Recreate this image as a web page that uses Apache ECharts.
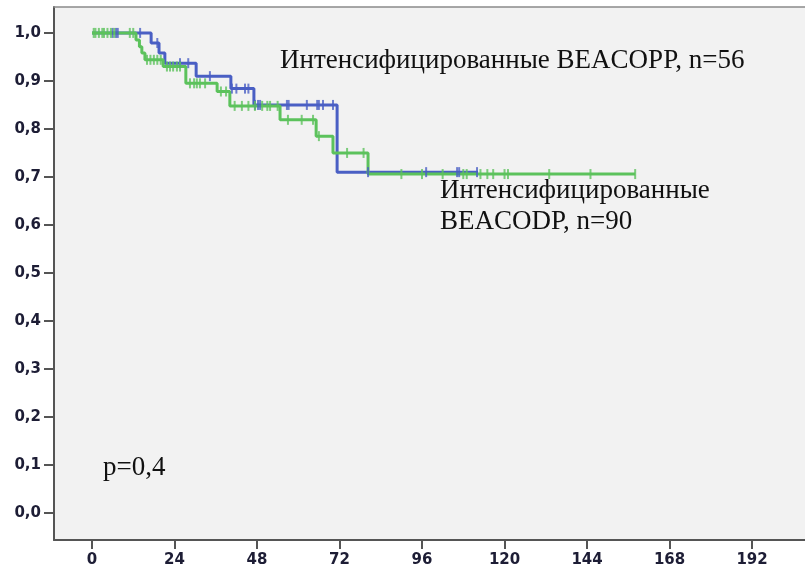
<!DOCTYPE html>
<html>
<head>
<meta charset="utf-8">
<script src="https://cdn.jsdelivr.net/npm/echarts@6/dist/echarts.min.js"></script>
<style>
html,body{margin:0;padding:0;background:#fff;overflow:hidden;}
#chart{width:805px;height:571px;}
</style>
</head>
<body>
<div id="chart"></div>
<script>
// ---- Data (months vs cumulative survival) ----
const xTicks = [0, 24, 48, 72, 96, 120, 144, 168, 192];
const yTicks = [0, 0.1, 0.2, 0.3, 0.4, 0.5, 0.6, 0.7, 0.8, 0.9, 1.0];

// BEACOPP (blue): event times and survival after each step
const blueTimes = [0, 17.2, 19.5, 21.2, 30.3, 40.4, 47.1, 71.3];
const blueSurv  = [1.0, 0.979, 0.958, 0.937, 0.910, 0.884, 0.850, 0.710];
const blueEnd = 112.3;
const blueCensor = [6, 7, 7.5, 14, 19, 25.6, 28, 34.3, 40.7, 42, 44.5, 45.5,
  47.4, 48.3, 48.9, 56.7, 57.2, 62.5, 65.5, 66, 67.2, 70.1, 80.3, 97.2, 106.2, 106.8, 112];

// BEACODP (green)
const greenTimes = [0, 12.8, 13.8, 14.5, 15.4, 20.7, 27.3, 36.4, 40.1, 54.7, 65.2, 70.1, 80.3];
const greenSurv  = [1.0, 0.985, 0.971, 0.958, 0.944, 0.930, 0.895, 0.878, 0.848, 0.819, 0.785, 0.750, 0.706];
const greenEnd = 158;
const greenCensor = [0.5, 1, 2, 3, 3.5, 4.5, 5.5, 6.5, 11, 12, 16, 17, 18, 19, 20,
  21.8, 22.7, 23.6, 24.7, 25.6, 28.5, 29.7, 30.5, 31.4, 32.9, 37.5, 39,
  41.5, 43.6, 45.5, 47.4, 49.5, 51, 51.8, 54, 57, 61, 64.3, 66, 74.2, 79,
  90, 96, 102, 108, 109, 113, 115, 116.7, 120, 121, 133, 145, 158];

const labelTop = 'Интенсифицированные BEACOPP, n=56';
const labelBottom = ['Интенсифицированные', 'BEACODP, n=90'];
const pText = 'p=0,4';

// ---- helpers ----
function stepLine(times, surv, end) {
  const pts = times.map((t, i) => [t, surv[i]]);
  pts.push([end, surv[surv.length - 1]]);
  return pts;
}
function survAt(times, surv, t) {
  let s = surv[0];
  for (let i = 0; i < times.length; i++) { if (times[i] <= t) s = surv[i]; }
  return s;
}
function censorPts(cs, times, surv) {
  return cs.map(t => [t, survAt(times, surv, t)]);
}

const blue = '#4a5fc4';
const green = '#5cc25c';
const axisCol = '#555555';

const chart = echarts.init(document.getElementById('chart'), null, {renderer: 'canvas'});
const fmt = v => Number(v).toFixed(1).replace('.', ',');
const txtFont = '"Liberation Serif", "Times New Roman", serif';
const X_MIN = -11.05, X_MAX = 207.4;

chart.setOption({
  animation: false,
  backgroundColor: '#ffffff',
  grid: {
    left: 54, right: 0, top: 7, bottom: 31,
    show: true, backgroundColor: '#f2f2f2', borderWidth: 0
  },
  xAxis: [{
    type: 'value', min: X_MIN, max: X_MAX,
    axisLine: {show: true, onZero: false, lineStyle: {color: axisCol, width: 2}},
    axisTick: {show: true, customValues: xTicks, length: 9, lineStyle: {color: axisCol, width: 2}},
    axisLabel: {customValues: xTicks, margin: 13, color: '#1d1d35', fontFamily: '"DejaVu Sans", Verdana, sans-serif',
      fontWeight: 'bold', fontSize: 15},
    splitLine: {show: false}
  }, {
    type: 'value', position: 'top', min: X_MIN, max: X_MAX,
    axisLine: {show: true, onZero: false, lineStyle: {color: '#8a8a8a', width: 1.5}},
    axisTick: {show: false}, axisLabel: {show: false}, splitLine: {show: false}
  }],
  yAxis: {
    type: 'value', min: -0.05625, max: 1.054,
    axisLine: {show: true, onZero: false, lineStyle: {color: axisCol, width: 2}},
    axisTick: {show: true, customValues: yTicks, length: 10, lineStyle: {color: axisCol, width: 2}},
    axisLabel: {customValues: yTicks, margin: 13, formatter: fmt, color: '#1d1d35',
      fontFamily: '"DejaVu Sans", Verdana, sans-serif', fontWeight: 'bold', fontSize: 15},
    splitLine: {show: false}
  },
  series: [
    {type: 'line', step: 'end', data: stepLine(blueTimes, blueSurv, blueEnd), showSymbol: false,
      lineStyle: {color: blue, width: 3}, z: 2},
    {type: 'line', step: 'end', data: stepLine(greenTimes, greenSurv, greenEnd), showSymbol: false,
      lineStyle: {color: green, width: 3}, z: 3},
    {type: 'scatter', data: censorPts(blueCensor, blueTimes, blueSurv), symbol: 'rect', symbolSize: [2, 10],
      itemStyle: {color: blue}, z: 4},
    {type: 'scatter', data: censorPts(greenCensor, greenTimes, greenSurv), symbol: 'rect', symbolSize: [2, 10],
      itemStyle: {color: green}, z: 5}
  ],
  graphic: [
    {type: 'text', left: 280, top: 47, style: {text: labelTop, font: '27px ' + txtFont, fill: '#111'}},
    {type: 'text', left: 440, top: 175, style: {text: labelBottom.join('\n'), font: '27px ' + txtFont, fill: '#111', lineHeight: 31}},
    {type: 'text', left: 103, top: 454, style: {text: pText, font: '27px ' + txtFont, fill: '#111'}}
  ]
});
</script>
</body>
</html>
